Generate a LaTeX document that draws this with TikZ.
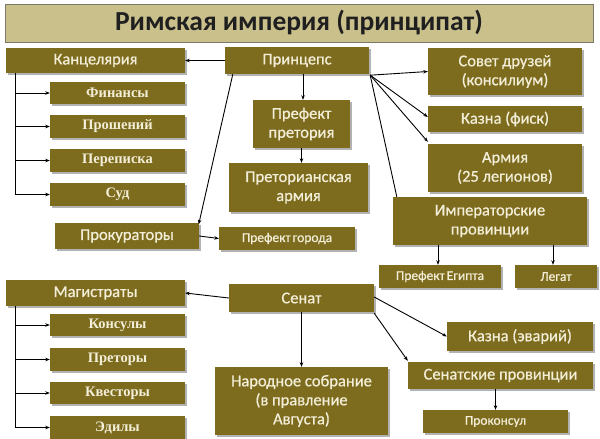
\documentclass[tikz,border=0pt]{standalone}
\usepackage{fontspec}
\setmainfont{Carlito}
\newfontfamily\boxfont{Carlito}[FakeBold=0.7]
\newfontfamily\serifb{Liberation Serif}
\usetikzlibrary{arrows.meta,shadows}
\definecolor{olive}{HTML}{7D6B1E}
\definecolor{cream}{HTML}{F3EED8}
\definecolor{titlefill}{HTML}{C9C08C}
\definecolor{titleline}{HTML}{7A7868}
\begin{document}
\begin{tikzpicture}[x=1pt,y=-1pt,
  box/.style={fill=olive, draw=none, text=cream, inner sep=0pt, align=center,
    drop shadow={shadow xshift=1.5pt,shadow yshift=-1.5pt,fill=black,opacity=0.3},
    font=\boxfont\fontsize{16.5}{19}\selectfont},
  subbox/.style={box, font=\serifb\bfseries\fontsize{14.5}{16}\selectfont},
  smallbox/.style={box, font=\boxfont\fontsize{13.5}{15}\selectfont},
  arr/.style={-{Stealth[length=4.5pt,width=3.5pt]}, line width=0.9pt, black},
  ln/.style={line width=0.9pt, black}]
\useasboundingbox (0,0) rectangle (600,439);
\fill[white] (0,0) rectangle (600,439);
% title
\node[fill=titlefill, draw=titleline, line width=1pt, minimum width=588pt, minimum height=38pt, inner sep=0pt,
  font=\bfseries\fontsize{27.5}{30}\selectfont, text=black!88] (title) at (299,23) {Римская империя (принципат)};
% top part
\node[box, minimum width=179pt, minimum height=25pt] (kanc) at (95.5,60.5) {Канцелярия};
\node[box, minimum width=144pt, minimum height=27pt] (princ) at (297,60.5) {Принцепс};
\node[subbox, minimum width=135pt, minimum height=22pt] (fin) at (117.5,93) {Финансы};
\node[subbox, minimum width=135pt, minimum height=23pt] (prosh) at (117.5,126.5) {Прошений};
\node[subbox, minimum width=135pt, minimum height=23pt] (perep) at (117.5,160.5) {Переписка};
\node[subbox, minimum width=135pt, minimum height=23pt] (sud) at (117.5,194.5) {Суд};
\node[box, minimum width=97pt, minimum height=48pt] (prefpr) at (301.5,124) {Префект\\претория};
\node[box, minimum width=139pt, minimum height=49pt] (pretarm) at (298.5,187.5) {Преторианская\\армия};
\node[box, minimum width=154pt, minimum height=47pt] (sovet) at (505,71.5) {Совет друзей\\(консилиум)};
\node[box, minimum width=154pt, minimum height=26pt] (fisk) at (505,119) {Казна (фиск)};
\node[box, minimum width=154pt, minimum height=48pt] (army) at (505,168) {Армия\\(25 легионов)};
\node[box, minimum width=194pt, minimum height=48pt] (imp) at (490,221) {Императорские\\провинции};
\node[box, minimum width=144pt, minimum height=26pt] (prok) at (127,236) {Прокураторы};
\node[smallbox, minimum width=136pt, minimum height=23pt] (prefg) at (287,238.5) {Префект\hspace{2pt}города};
\node[smallbox, minimum width=122pt, minimum height=23pt] (egypt) at (440,276.5) {Префект\hspace{2pt}Египта};
\node[smallbox, minimum width=82pt, minimum height=23pt] (legat) at (556,276.5) {Легат};
% bottom part
\node[box, minimum width=179pt, minimum height=26pt] (mag) at (95.5,293) {Магистраты};
\node[box, minimum width=145pt, minimum height=28pt] (senat) at (301.5,298) {Сенат};
\node[subbox, minimum width=135pt, minimum height=22pt] (kons) at (117.5,325) {Консулы};
\node[subbox, minimum width=135pt, minimum height=23pt] (pret) at (117.5,359.5) {Преторы};
\node[subbox, minimum width=135pt, minimum height=22pt] (kvest) at (117.5,393) {Квесторы};
\node[subbox, minimum width=135pt, minimum height=23pt] (edil) at (117.5,427.5) {Эдилы};
\node[box, minimum width=146pt, minimum height=29pt] (aer) at (520,336.5) {Казна (эварий)};
\node[box, minimum width=173pt, minimum height=68pt] (narod) at (301.5,401) {Народное собрание\\(в правление\\Августа)};
\node[box, minimum width=185pt, minimum height=27pt] (senprov) at (500.5,375.5) {Сенатские провинции};
\node[smallbox, minimum width=145pt, minimum height=23pt] (prokons) at (495.5,421.5) {Проконсул};
% connectors top
\draw[arr] (princ.west) -- (kanc.east);
\coordinate (kl) at ([xshift=10pt]kanc.south west);
\draw[ln] (kl) -- (kl |- sud.west);
\foreach \n in {fin,prosh,perep,sud} \draw[arr] (kl |- \n.west) -- (\n.west);
\draw[arr] ([xshift=6pt]princ.south) -- ([xshift=6pt]princ.south |- prefpr.north);
\draw[arr] (prefpr.south) -- (prefpr.south |- pretarm.north);
\coordinate (pr) at ([xshift=1pt,yshift=-1pt]princ.south east);
\draw[arr] (pr) -- ([yshift=0pt]sovet.west);
\draw[arr] (pr) -- ([yshift=2pt]fisk.west);
\draw[arr] (pr) -- ([yshift=2pt]army.north west);
\draw[ln] (pr) -- ([xshift=4pt]imp.north west);
\draw[arr] ([xshift=8pt]princ.south west) -- ([xshift=-0.5pt,yshift=-1.5pt]prok.north east);
\draw[arr] (prok.east) -- (prefg.west);
\draw[arr] ([xshift=-2pt]egypt.north |- imp.south) -- ([xshift=-2pt]egypt.north);
\draw[arr] ([xshift=-3pt]legat.north |- imp.south) -- ([xshift=-3pt]legat.north);
% connectors bottom
\draw[arr] (senat.west) -- (mag.east);
\coordinate (ml) at ([xshift=10pt]mag.south west);
\draw[ln] (ml) -- (ml |- edil.west);
\foreach \n in {kons,pret,kvest,edil} \draw[arr] (ml |- \n.west) -- (\n.west);
\draw[arr] (senat.south) -- (senat.south |- narod.north);
\draw[arr] ([yshift=1pt]senat.east) -- (aer.west);
\draw[arr] ([yshift=-1pt]senat.south east) -- ([yshift=1pt]senprov.north west);
\draw[arr] ([xshift=-5pt]senprov.south) -- ([xshift=-5pt]senprov.south |- prokons.north);
\end{tikzpicture}
\end{document}
